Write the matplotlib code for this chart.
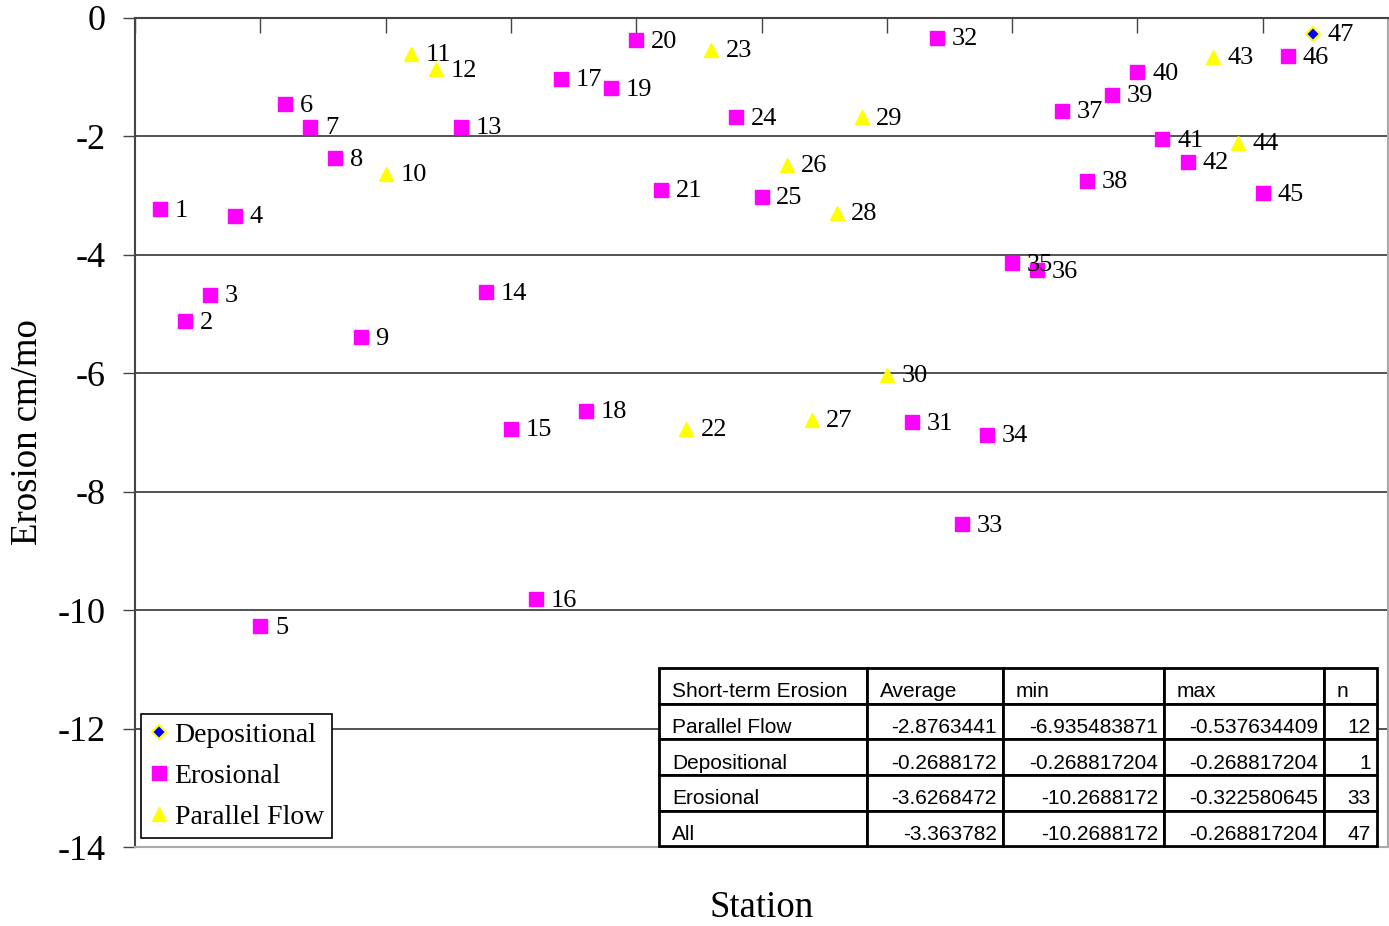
import matplotlib.pyplot as plt
import matplotlib.transforms as mtransforms
import numpy as np
from matplotlib.table import Table

plt.rcParams['font.family'] = ['Liberation Serif', 'DejaVu Serif']
plt.rcParams['axes.unicode_minus'] = False

# erosion per station (cm/mo)
station = list(range(1, 48))
erosion = [-3.23, -5.12, -4.68, -3.34, -10.27, -1.46, -1.84, -2.37, -5.39, -2.63,
           -0.61, -0.87, -1.84, -4.63, -6.94, -9.82, -1.03, -6.63, -1.19, -0.38,
           -2.90, -6.94, -0.54, -1.68, -3.02, -2.48, -6.79, -3.29, -1.68, -6.03,
           -6.83, -0.33, -8.55, -7.04, -4.14, -4.26, -1.57, -2.75, -1.30, -0.92,
           -2.05, -2.43, -0.66, -2.11, -2.96, -0.65, -0.27]
parallel_flow_stations = [10, 11, 12, 22, 23, 26, 27, 28, 29, 30, 43, 44]
depositional_stations = [47]

# summary table
table_header = ['Short-term Erosion', 'Average', 'min', 'max', 'n']
table_rows = ['Parallel Flow', 'Depositional', 'Erosional', 'All']
table_average = ['-2.8763441', '-0.2688172', '-3.6268472', '-3.363782']
table_min = ['-6.935483871', '-0.268817204', '-10.2688172', '-10.2688172']
table_max = ['-0.537634409', '-0.268817204', '-0.322580645', '-0.268817204']
table_n = ['12', '1', '33', '47']

station = np.array(station)
erosion = np.array(erosion)
is_pf = np.isin(station, parallel_flow_stations)
is_dep = np.isin(station, depositional_stations)
is_ero = ~(is_pf | is_dep)

fig = plt.figure(figsize=(13.89, 9.26), dpi=100)
ax = fig.add_axes([0.0972, 0.0853, 0.9021, 0.8953])

ax.plot(station[is_dep], erosion[is_dep], 'D', color='#0000FF', markeredgecolor='#FFFF00',
        markeredgewidth=1.5, markersize=7.5, label='Depositional', zorder=3)
ax.plot(station[is_ero], erosion[is_ero], 's', color='#FF00FF', markersize=9.5,
        label='Erosional', zorder=3)
ax.plot(station[is_pf], erosion[is_pf], '^', color='#FFFF00', markersize=10.5,
        label='Parallel Flow', zorder=3)

for s, e in zip(station, erosion):
    ax.annotate(str(s), (s, e), xytext=(10.5, -1), textcoords='offset points',
                ha='left', va='center', fontsize=19, zorder=4)

ax.set_xlim(0, 50)
ax.set_ylim(-14, 0)
ax.set_yticks(np.arange(-14, 1, 2))
ax.set_xticks(np.arange(0, 51, 5))
ax.xaxis.tick_top()
ax.tick_params(axis='x', direction='in', length=11, width=1, labeltop=False, colors='#444444')
ax.tick_params(axis='y', direction='out', length=9, width=1, labelsize=26, pad=12,
               color='#444444')
ax.yaxis.grid(True, color='#444444', linewidth=1.3)
ax.set_axisbelow(True)
for side in ['left', 'top']:
    ax.spines[side].set_color('#444444')
    ax.spines[side].set_linewidth(1.5)
for side in ['right', 'bottom']:
    ax.spines[side].set_color('#aaaaaa')
    ax.spines[side].set_linewidth(1.5)

ax.set_ylabel('Erosion cm/mo', fontsize=26.5, labelpad=9)
ax.set_xlabel('Station', fontsize=26.5, labelpad=31)

leg = ax.legend(loc='lower left', bbox_to_anchor=(0.005, 0.011), fontsize=20,
                frameon=True, fancybox=False, framealpha=1, edgecolor='black',
                handlelength=0.7, handletextpad=0.2, borderpad=0.3, labelspacing=0.55,
                borderaxespad=0, numpoints=1)
leg.get_frame().set_linewidth(1.2)
leg.set_zorder(5)

# summary table
col_px = [208, 136, 161, 160, 53]
col_w = [c / sum(col_px) for c in col_px]
tab = Table(ax, bbox=[0.418, 0.001, 0.573, 0.215])
cells = [table_header] + [[r, a, mn, mx, n] for r, a, mn, mx, n in
                          zip(table_rows, table_average, table_min, table_max, table_n)]
nrows = len(cells)
shift_down = mtransforms.Affine2D().translate(0, -6)
for i, row in enumerate(cells):
    for j, txt in enumerate(row):
        loc = 'left' if (i == 0 or j == 0) else 'right'
        c = tab.add_cell(i, j, col_w[j], 1 / nrows, text=txt, loc=loc,
                         edgecolor='black', facecolor='white')
        c.PAD = 13 / col_px[j] if loc == 'left' else 6 / col_px[j]
        c.set_linewidth(2)
        c.get_text().set_fontfamily('Liberation Sans')
        c.get_text().set_fontsize(15)
        c.get_text().set_transform(shift_down)
tab.auto_set_font_size(False)
tab.set_zorder(5)
ax.add_table(tab)

fig.savefig('out.png', dpi=100)
